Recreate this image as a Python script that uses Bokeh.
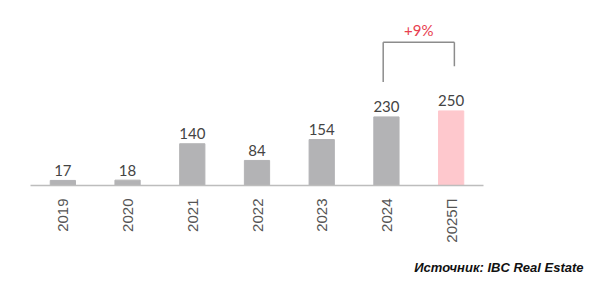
import math
from bokeh.plotting import figure
from bokeh.models import ColumnDataSource, Range1d, FactorRange, Title
from bokeh.core.properties import value
from bokeh.embed import file_html
from bokeh.resources import INLINE

categories = ["2019", "2020", "2021", "2022", "2023", "2024", "2025П"]
values = [17, 18, 140, 84, 154, 230, 250]
growth_label = "+9%"
source_label = "Источник: IBC Real Estate"

GRAY = "#b3b3b5"
PINK = "#fec8cd"
colors = [GRAY] * (len(categories) - 1) + [PINK]
labels = [str(v) for v in values]

src = ColumnDataSource(dict(x=categories, top=values, color=colors, label=labels))

PX = 0.3  # pixels per unit
p = figure(width=598, height=286, x_range=FactorRange(*categories, range_padding=0),
           y_range=Range1d(0, 176 / PX), output_backend="svg", toolbar_location=None,
           min_border_left=30, min_border_right=115, min_border_top=10, min_border_bottom=100)
p.outline_line_color = None
p.background_fill_color = "white"
p.border_fill_color = "white"
p.xgrid.grid_line_color = None
p.ygrid.grid_line_color = None
p.yaxis.visible = False

p.vbar(x="x", top="top", width=0.39, color="color", source=src)
p.text(x="x", y="top", text="label", source=src, y_offset=-10,
       text_align="center", text_baseline="alphabetic",
       text_font=value("Lato"), text_font_size="15px", text_color="#444444")

ax = p.xaxis[0]
ax.axis_line_color = "#bdbdbd"
ax.axis_line_width = 1.5
ax.major_tick_line_color = None
ax.minor_tick_line_color = None
ax.major_label_orientation = math.pi / 2
ax.major_label_text_font = "Liberation Sans"
ax.major_label_text_font_size = "15px"
ax.major_label_text_color = "#555555"
ax.major_label_standoff = 7

# bracket between last two bars
i0 = len(categories) - 2
i1 = len(categories) - 1
x0 = i0 + 0.45
x1 = i1 + 0.55
y_top = values[i1] + 230
p.segment(x0=[x0, x0, x1], y0=[values[i0] + 117, y_top, y_top],
          x1=[x0, x1, x1], y1=[y_top, y_top, values[i1] + 150],
          line_color="#8c8c8c", line_width=1.5)
p.text(x=[(x0 + x1) / 2], y=[y_top + 40], text=[growth_label],
       text_align="center", text_baseline="alphabetic",
       text_font=value("Lato"), text_font_size="15px", text_color="#e8404f")

p.add_layout(Title(text=source_label, align="right", offset=-100, standoff=24,
                   text_font="Liberation Sans", text_font_style="bold italic",
                   text_font_size="13px", text_color="#111111"), "below")

open("out.html", "w").write(file_html(p, INLINE))
